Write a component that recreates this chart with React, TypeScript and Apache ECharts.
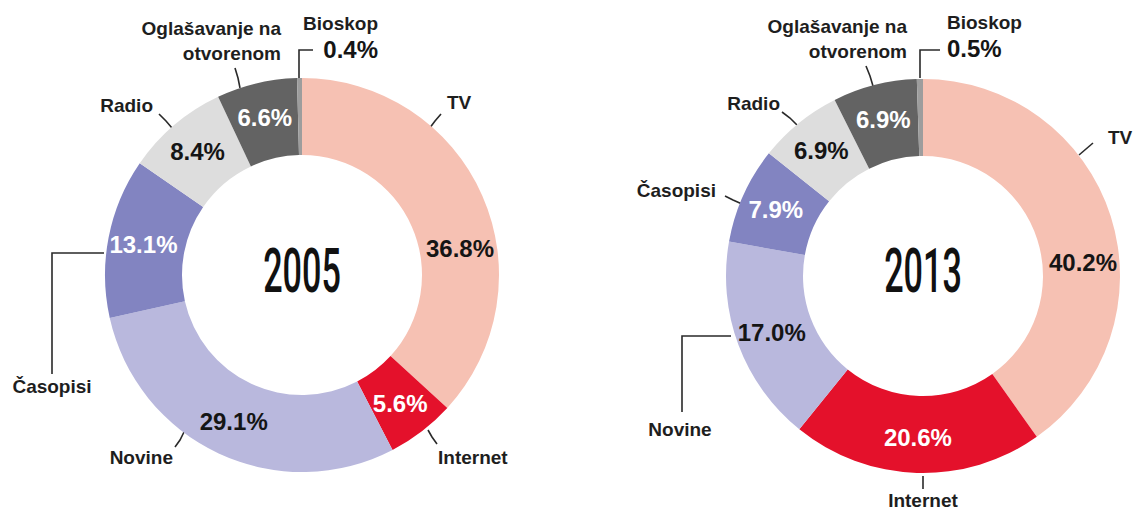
import React, { useEffect, useRef } from 'react';
import * as echarts from 'echarts';

// ---- data ----
const categories = ['TV', 'Internet', 'Novine', 'Časopisi', 'Radio', 'Oglašavanje na otvorenom', 'Bioskop'];
const categoryLabels = ['TV', 'Internet', 'Novine', 'Časopisi', 'Radio', 'Oglašavanje na\notvorenom', 'Bioskop'];
const years = ['2005', '2013'];
const shares2005 = [36.8, 5.6, 29.1, 13.1, 8.4, 6.6, 0.4];
const shares2013 = [40.2, 20.6, 17.0, 7.9, 6.9, 6.9, 0.5];

// ---- styles / layout ----
const sliceColors = ['#f6c1b3', '#e4112b', '#b9b8dd', '#8284c1', '#dddddd', '#636363', '#9d9d9d'];
const percentOnDark = [false, true, false, true, false, true, false];
const FONT = '"Liberation Sans", Arial, sans-serif';
const YEAR_FONT = 'Roboto, "Liberation Sans", sans-serif';

const centers = [
  [302, 275],
  [923, 276],
];
const radii = [120, 197];
const tvInside = [
  [460, 248],
  [1083, 262],
];

type OuterSpec = { x: number; y: number; align: string; line: number[][] };
const outer: OuterSpec[][] = [
  [
    { x: 447, y: 102, align: 'left', line: [[429, 129], [435, 121], [441, 114]] },
    { x: 438, y: 457, align: 'left', line: [[428, 430], [432, 437], [437, 444]] },
    { x: 173, y: 457, align: 'right', line: [[184, 432], [180, 440], [175, 447]] },
    { x: 52, y: 386, align: 'center', line: [[104, 253], [52, 253], [52, 374]] },
    { x: 153, y: 105, align: 'right', line: [[172, 128], [166, 121], [159, 114]] },
    { x: 281, y: 41, align: 'right', line: [[240, 88], [238, 78], [235, 68]] },
    { x: 378, y: 37, align: 'right', line: [[299, 78], [299, 50], [313, 50]] },
  ],
  [
    { x: 1108, y: 137, align: 'left', line: [[1079, 155], [1086, 149], [1093, 143]] },
    { x: 923, y: 500, align: 'center', line: [[923, 476], [923, 482], [923, 489]] },
    { x: 680, y: 429, align: 'center', line: [[731, 336], [682, 336], [682, 412]] },
    { x: 716, y: 190, align: 'right', line: [[742, 204], [733, 200], [725, 196]] },
    { x: 780, y: 103, align: 'right', line: [[797, 125], [790, 118], [782, 112]] },
    { x: 907, y: 39, align: 'right', line: [[873, 86], [870, 76], [866, 66]] },
    { x: 947, y: 36, align: 'left', line: [[920, 78], [920, 50], [940, 50]] },
  ],
];

function buildSeries(values: number[], k: number) {
  const center = centers[k];
  const dataInside = values.map((v, i) => ({
    name: categories[i],
    value: v,
    itemStyle: { color: sliceColors[i] },
    label: {
      show: i !== 6,
      color: percentOnDark[i] ? '#ffffff' : '#151515',
    },
  }));
  const dataOuter = values.map((v, i) => ({
    name: categories[i],
    value: v,
  }));
  return [
    {
      type: 'pie',
      center,
      radius: radii,
      startAngle: 90,
      clockwise: true,
      avoidLabelOverlap: false,
      silent: true,
      emphasis: { disabled: true },
      data: dataInside,
      label: {
        position: 'inside',
        fontFamily: FONT,
        fontWeight: 'bold',
        fontSize: 24,
        formatter: (p: any) => `${Number(p.value).toFixed(1)}%`,
      },
      labelLine: { show: false },
      labelLayout: (p: any) => {
        if (p.dataIndex === 0) {
          return { x: tvInside[k][0], y: tvInside[k][1], align: 'center', verticalAlign: 'middle' };
        }
        return {};
      },
    },
    {
      type: 'pie',
      center,
      radius: radii,
      startAngle: 90,
      clockwise: true,
      avoidLabelOverlap: false,
      silent: true,
      emphasis: { disabled: true },
      itemStyle: { color: 'rgba(0,0,0,0)' },
      data: dataOuter,
      label: {
        show: true,
        position: 'outside',
        fontFamily: FONT,
        fontWeight: 'bold',
        fontSize: 19,
        lineHeight: 25,
        color: '#1e1e1e',
        formatter: (p: any) => {
          const name = categoryLabels[p.dataIndex];
          if (p.dataIndex === 6) {
            return `{n|${name}}\n{p|${Number(p.value).toFixed(1)}%}`;
          }
          return name;
        },
        rich: {
          n: { fontFamily: FONT, fontWeight: 'bold', fontSize: 19, lineHeight: 24, color: '#1e1e1e' },
          p: { fontFamily: FONT, fontWeight: 'bold', fontSize: 24, lineHeight: 28, color: '#151515' },
        },
      },
      labelLine: {
        show: true,
        lineStyle: { color: '#2a2a2a', width: 1.6 },
      },
      labelLayout: (p: any) => {
        const s = outer[k][p.dataIndex];
        return {
          x: s.x,
          y: s.y,
          align: s.align,
          verticalAlign: 'middle',
          labelLinePoints: s.line,
        };
      },
    },
  ];
}

export default function App() {
  const ref = useRef<HTMLDivElement>(null);
  useEffect(() => {
    if (!ref.current) return;
    const chart = echarts.init(ref.current, undefined, { renderer: 'svg' });
    const option: any = {
      animation: false,
      backgroundColor: '#ffffff',
      graphic: years.map((y, k) => ({
        type: 'text',
        x: centers[k][0],
        y: 271.5,
        scaleX: 0.56,
        silent: true,
        style: {
          text: y,
          fill: '#111111',
          font: `500 61px ${YEAR_FONT}`,
          align: 'center',
          verticalAlign: 'middle',
          textAlign: 'center',
          textVerticalAlign: 'middle',
        },
      })),
      series: [...buildSeries(shares2005, 0), ...buildSeries(shares2013, 1)],
    };
    chart.setOption(option);
    return () => chart.dispose();
  }, []);
  return (
    <div
      ref={ref}
      style={{ position: 'absolute', left: 0, top: 0, width: 1135, height: 510, background: '#fff' }}
    />
  );
}
